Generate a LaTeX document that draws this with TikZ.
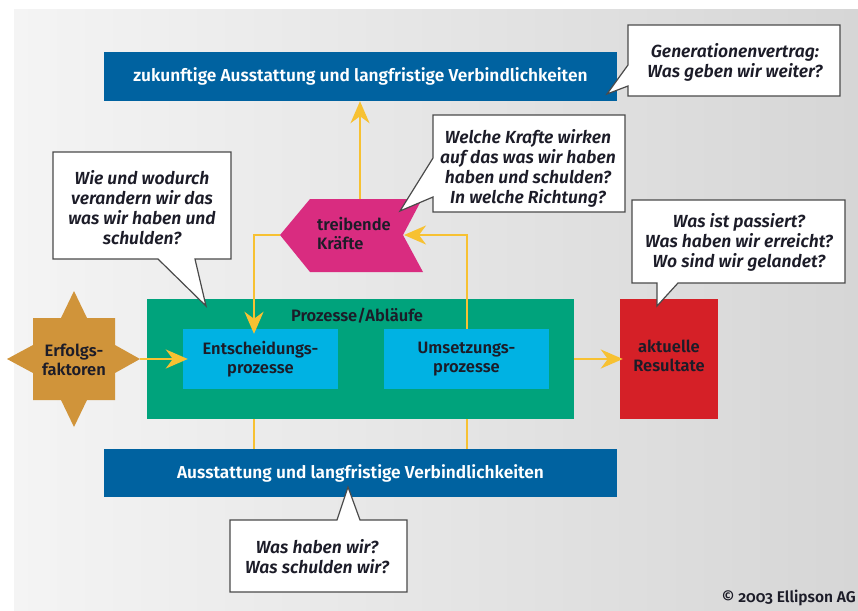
\documentclass[tikz,border=0pt]{standalone}
\usepackage{fontspec}
\usetikzlibrary{arrows.meta,calc}
\setmainfont{Fira Sans}
\IfFontExistsTF{Fira Sans SemiBold}{\newfontfamily\semib{Fira Sans SemiBold}[Numbers=OldStyle]}{\newfontfamily\semib{Fira Sans}[Numbers=OldStyle,BoldFont={* Bold}]}
\IfFontExistsTF{Fira Sans Medium}{\newfontfamily\medf{Fira Sans Medium}}{\newfontfamily\medf{Fira Sans}}
\definecolor{bgl}{HTML}{F4F4F4}
\definecolor{bgr}{HTML}{D6D6D6}
\definecolor{blued}{HTML}{0062A0}
\definecolor{greenc}{HTML}{00A37C}
\definecolor{cyanc}{HTML}{00B2E3}
\definecolor{redc}{HTML}{D52027}
\definecolor{pinkc}{HTML}{D92C80}
\definecolor{orangec}{HTML}{D0943A}
\definecolor{arrowy}{HTML}{F7C132}
\definecolor{txtdark}{HTML}{1C1C28}
\definecolor{callgray}{HTML}{4A4A4A}
\newcommand\ctextfont{\semib\itshape\fontsize{17.5}{20}\selectfont}
\newcommand\boxfont{\semib\fontsize{17.3}{19}\selectfont}
\newcommand\medfont{\semib\fontsize{16.5}{19}\selectfont}
\begin{document}
\begin{tikzpicture}[x=1pt,y=-1pt,
  yline/.style={draw=arrowy, line width=2.6pt},
  yarrow/.style={yline, -{Stealth[length=22pt,width=19pt,inset=7pt]}},
  box/.style={rectangle, inner sep=0pt, align=center},
  callout/.style={draw=callgray, fill=white, line width=1.2pt, line join=miter},
  ctext/.style={align=center, font=\ctextfont, text=txtdark, inner sep=0pt},
  dtext/.style={align=center, font=\medfont, text=txtdark, inner sep=0pt},
]
\useasboundingbox (0,0) rectangle (858,610);
\shade[left color=bgl, right color=bgr] (14,10) rectangle (858,610);

% blue boxes
\node[box, fill=blued, minimum width=513pt, minimum height=49pt, text=white, font=\boxfont] (top) at (360.5,76.5) {zukunftige Ausstattung und langfristige Verbindlichkeiten};
\node[box, fill=blued, minimum width=513pt, minimum height=48pt, text=white, font=\boxfont] (bot) at (360.5,473) {Ausstattung und langfristige Verbindlichkeiten};

% process block
\node[box, fill=greenc, minimum width=427pt, minimum height=120pt] (proc) at (360.5,359) {};
\node[dtext] (proclabel) at (357,316) {Prozesse/Abläufe};
\node[box, fill=cyanc, minimum width=155pt, minimum height=60pt, font=\medfont, text=txtdark] (ent) at (260.5,359) {Entscheidungs-\\prozesse};
\node[box, fill=cyanc, minimum width=165pt, minimum height=60pt, font=\medfont, text=txtdark] (ums) at (466.5,359) {Umsetzungs-\\prozesse};

% results
\node[box, fill=redc, minimum width=98pt, minimum height=120pt] (res) at (669,359) {};
\node[dtext] (reslabel) at (669,356) {aktuelle\\Resultate};

% driving forces
\fill[pinkc] (280,235) -- (310,199) -- (422,199) -- (403,235) -- (423,272) -- (310,272) -- cycle;
\node[dtext, align=left, anchor=west] (kraefte) at (317,234) {treibende\\Kräfte};
\coordinate (kTop) at (360,199);
\coordinate (kLeft) at (280,235);
\coordinate (kNotch) at (404,235);

% success factors star
\fill[orangec] (33,318) -- (61,318) -- (74,291) -- (87,318) -- (115,318) -- (115,345) -- (140,359)
  -- (115,373) -- (115,400) -- (87,400) -- (74,427) -- (61,400) -- (33,400) -- (33,373)
  -- (7,359) -- (33,345) -- cycle;
\node[dtext] (erfolg) at (74,360) {Erfolgs-\\faktoren};
\coordinate (eR) at (140,359);

% connectors
\coordinate (xL) at (254,0);
\coordinate (xR) at (467,0);
\draw[yarrow] (kTop) -- (kTop |- top.south);
\draw[yarrow] (kLeft) -| ($(xL |- ent.north)+(0,5)$);
\draw[yarrow] (xR |- ums.north) |- (kNotch);
\draw[yline] (xL |- proc.south) -- (xL |- bot.north);
\draw[yline] (xR |- proc.south) -- (xR |- bot.north);
\draw[yarrow] (eR) -- ($(ent.west)+(5,0)$);
\draw[yarrow] (proc.east) -- ($(res.west)+(3,0)$);

% callouts
\path[callout] (53,152) -- (231,152) -- (231,259) -- (195,259) -- (206,306) -- (158,259) -- (53,259) -- cycle;
\node[ctext] (q1) at (142,208) {Wie und wodurch\\verandern wir das\\was wir haben und\\schulden?};

\path[callout] (433,115) -- (625,115) -- (625,212) -- (433,212) -- (433,197) -- (400,211) -- (433,158) -- cycle;
\node[ctext] (q2) at (528,168) {Welche Krafte wirken\\auf das was wir haben\\haben und schulden?\\In welche Richtung?};

\path[callout] (628,25) -- (840,25) -- (840,96) -- (628,96) -- (628,86) -- (607,94) -- (628,65) -- cycle;
\node[ctext] (q3) at (735,62) {Generationenvertrag:\\Was geben wir weiter?};

\path[callout] (632,200) -- (845,200) -- (845,283) -- (678,283) -- (657,306) -- (657,283) -- (632,283) -- cycle;
\node[ctext] (q4) at (739,242) {Was ist passiert?\\Was haben wir erreicht?\\Wo sind wir gelandet?};

\path[callout] (230,520) -- (337,520) -- (348,487) -- (360,520) -- (407,520) -- (407,592) -- (230,592) -- cycle;
\node[ctext] (q5) at (317,557) {Was haben wir?\\Was schulden wir?};

% copyright
\node[anchor=base east, inner sep=0pt, font=\semib\fontsize{15.5}{17}\selectfont, text=txtdark] (copy) at (856,602) {© 2003 Ellipson AG};
\end{tikzpicture}
\end{document}
